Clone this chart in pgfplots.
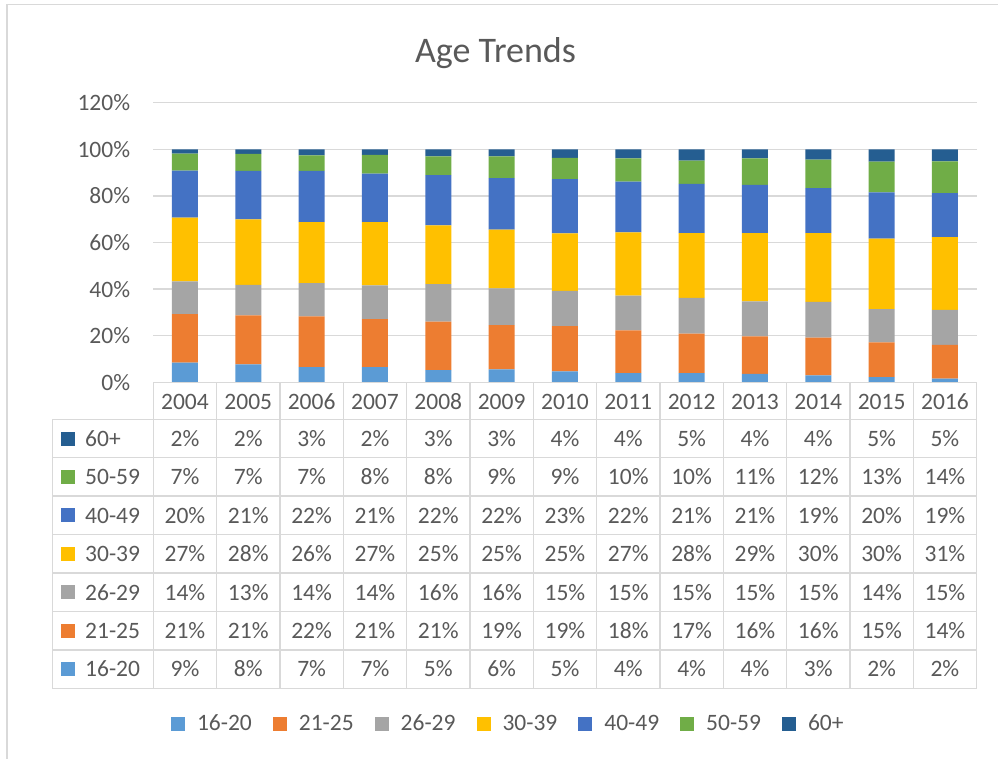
\documentclass[border=0pt]{standalone}
\usepackage{pgfplots}
\pgfplotsset{compat=1.18}
\usepackage{fontspec}
\setmainfont{Carlito}
\definecolor{cA}{HTML}{5B9BD5}
\definecolor{cB}{HTML}{ED7D31}
\definecolor{cC}{HTML}{A5A5A5}
\definecolor{cD}{HTML}{FFC000}
\definecolor{cE}{HTML}{4472C4}
\definecolor{cF}{HTML}{70AD47}
\definecolor{cG}{HTML}{255E91}
\definecolor{txt}{HTML}{595959}
\definecolor{gridc}{HTML}{D9D9D9}
\newcommand\fs{\fontsize{23.5}{28}\selectfont}
\begin{document}
\begin{tikzpicture}
\useasboundingbox (0pt,0pt) rectangle (998pt,-759pt);
\begin{axis}[
  at={(153.3pt,-382.3pt)}, anchor=south west,
  scale only axis, width=823.3pt, height=279.5pt,
  xmin=-0.5, xmax=12.5, ymin=0, ymax=120,
  ybar stacked, bar width=26pt,
  axis line style={draw=none}, major tick length=0pt,
  xtick=\empty,
  ytick={0,20,40,60,80,100,120},
  yticklabels={0\%,20\%,40\%,60\%,80\%,100\%,120\%},
  yticklabel style={inner sep=0pt, xshift=-23pt, anchor=east, font=\fs, text=txt},
  ymajorgrids, grid style={gridc, line width=1.3pt},
  /pgf/number format/assume math mode=true,
  clip=false,
  legend columns=-1,
  legend image code/.code={\path[#1,draw=none] (0pt,-7pt) rectangle (14pt,7pt);},
  legend style={draw=none, fill=none, inner sep=0pt, outer sep=0pt,
    font=\fs, text=txt,
    at={(0.0215,-1.2215)}, anchor=west,
    nodes={inner sep=0pt},
    /tikz/every odd column/.append style={column sep=12pt},
    /tikz/every even column/.append style={column sep=21pt}},
]
\addplot[fill=cA, draw=none] coordinates {(0,8.5) (1,7.7) (2,6.5) (3,6.5) (4,5.2) (5,5.5) (6,4.7) (7,3.9) (8,3.9) (9,3.6) (10,3.0) (11,2.2) (12,1.6)};
\addplot[fill=cB, draw=none] coordinates {(0,20.8) (1,21.0) (2,21.8) (3,20.6) (4,20.9) (5,19.0) (6,19.4) (7,18.4) (8,17.0) (9,16.1) (10,16.2) (11,14.9) (12,14.5)};
\addplot[fill=cC, draw=none] coordinates {(0,14.0) (1,13.1) (2,14.3) (3,14.5) (4,16.0) (5,15.8) (6,15.2) (7,14.9) (8,15.3) (9,15.1) (10,15.3) (11,14.3) (12,15.0)};
\addplot[fill=cD, draw=none] coordinates {(0,27.4) (1,28.1) (2,26.2) (3,27.2) (4,25.3) (5,25.3) (6,24.6) (7,27.2) (8,27.9) (9,29.2) (10,29.6) (11,30.3) (12,31.2)};
\addplot[fill=cE, draw=none] coordinates {(0,20.2) (1,20.9) (2,22.0) (3,20.8) (4,21.6) (5,22.1) (6,23.3) (7,21.8) (8,21.1) (9,20.8) (10,19.3) (11,19.8) (12,18.9)};
\addplot[fill=cF, draw=none] coordinates {(0,7.3) (1,7.3) (2,6.6) (3,8.0) (4,8.0) (5,9.3) (6,9.2) (7,9.9) (8,10.0) (9,11.3) (10,12.2) (11,13.2) (12,13.7)};
\addplot[fill=cG, draw=none] coordinates {(0,1.8) (1,1.9) (2,2.6) (3,2.4) (4,3.0) (5,3.0) (6,3.6) (7,3.9) (8,4.8) (9,3.9) (10,4.4) (11,5.3) (12,5.1)};
\legend{16-20,21-25,26-29,30-39,40-49,50-59,60+}
\end{axis}
\begin{scope}[x=1pt,y=-1pt]
  % chart border
  \draw[gridc, line width=1.5pt] (7,759) -- (7,4.5) -- (998,4.5);
  % title
  \node[anchor=base, text=txt, font=\fontsize{36}{40}\selectfont, inner sep=0pt] at (495.5,63) {Age Trends};
  % data table grid
  \foreach \k in {0,...,7} {
    \draw[gridc, line width=1.5pt] (52.3,{419.3+38.43*\k}) -- (976.6,{419.3+38.43*\k});
  }
  \draw[gridc, line width=1.5pt] (153.3,382.3) -- (976.6,382.3);
  \draw[gridc, line width=1.5pt] (52.3,419.3) -- (52.3,688.3);
  \foreach \j in {0,...,13} {
    \draw[gridc, line width=1.5pt] ({153.3+63.33*\j},382.3) -- ({153.3+63.33*\j},688.3);
  }
  % year header
  \foreach \yr [count=\i from 0] in {2004,2005,2006,2007,2008,2009,2010,2011,2012,2013,2014,2015,2016} {
    \node[anchor=base, text=txt, font=\fs, inner sep=0pt] at ({153.3+63.33*(\i+0.5)},409.2) {\yr};
  }
  % rows
  \foreach \lab/\col/\vals [count=\r from 0] in {
      60+/cG/{2,2,3,2,3,3,4,4,5,4,4,5,5},
      50-59/cF/{7,7,7,8,8,9,9,10,10,11,12,13,14},
      40-49/cE/{20,21,22,21,22,22,23,22,21,21,19,20,19},
      30-39/cD/{27,28,26,27,25,25,25,27,28,29,30,30,31},
      26-29/cC/{14,13,14,14,16,16,15,15,15,15,15,14,15},
      21-25/cB/{21,21,22,21,21,19,19,18,17,16,16,15,14},
      16-20/cA/{9,8,7,7,5,6,5,4,4,4,3,2,2}} {
    \pgfmathsetmacro\yc{419.3+38.43*(\r+0.5)}
    \fill[\col] (61,\yc-7) rectangle (75,\yc+7);
    \node[anchor=base west, text=txt, font=\fs, inner sep=0pt] at (85,\yc+7.8) {\lab};
    \foreach \v [count=\i from 0] in \vals {
      \node[anchor=base, text=txt, font=\fs, inner sep=0pt] at ({153.3+63.33*(\i+0.5)},\yc+7.8) {\v\%};
    }
  }
\end{scope}
\end{tikzpicture}
\end{document}
